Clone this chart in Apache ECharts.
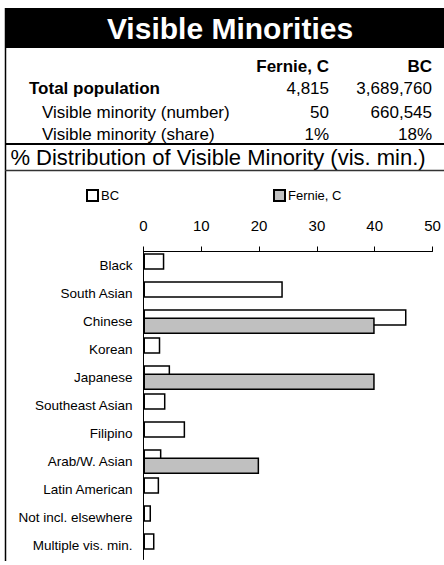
<!DOCTYPE html>
<html>
<head>
<meta charset="utf-8">
<title>Visible Minorities</title>
<script src="https://cdn.jsdelivr.net/npm/echarts@6/dist/echarts.min.js"></script>
<style>
  html, body { margin: 0; padding: 0; background: #fff; }
  #chart { width: 444px; height: 565px; }
</style>
</head>
<body>
<div id="chart"></div>
<script>
// data
const categories = ['Black', 'South Asian', 'Chinese', 'Korean', 'Japanese', 'Southeast Asian',
  'Filipino', 'Arab/W. Asian', 'Latin American', 'Not incl. elsewhere', 'Multiple vis. min.'];
const bcValues = [3.6, 24.1, 45.5, 2.9, 4.6, 3.8, 7.2, 3.1, 2.7, 1.3, 1.9];
const fernieValues = [0, 0, 40, 0, 40, 0, 0, 20, 0, 0, 0];
const xTicks = [0, 10, 20, 30, 40, 50];

const places = ['Fernie, C', 'BC'];
const rowLabels = ['Total population', 'Visible minority (number)', 'Visible minority (share)'];
const fernieRow = ['4,815', '50', '1%'];
const bcRow = ['3,689,760', '660,545', '18%'];

const FONT = '"Liberation Sans", Arial, sans-serif';
const chart = echarts.init(document.getElementById('chart'), null, { renderer: 'svg' });

function txt(text, x, y, size, opts) {
  opts = opts || {};
  return {
    type: 'text',
    x: x,
    y: y,
    z: 10,
    style: {
      text: text,
      fontFamily: FONT,
      fontSize: size,
      fontWeight: opts.bold ? 'bold' : 'normal',
      fill: opts.color || '#000',
      align: opts.align || 'left',
      verticalAlign: 'middle'
    }
  };
}

const graphics = [
  { type: 'rect', shape: { x: 5, y: 8, width: 445, height: 40 }, style: { fill: '#000' } },
  { type: 'line', shape: { x1: 5.5, y1: 8, x2: 5.5, y2: 561 }, style: { stroke: '#000', lineWidth: 1.5 } },
  { type: 'line', shape: { x1: 5, y1: 144, x2: 444, y2: 144 }, style: { stroke: '#000', lineWidth: 2 } },
  { type: 'line', shape: { x1: 5, y1: 170.5, x2: 444, y2: 170.5 }, style: { stroke: '#333', lineWidth: 1.5 } },
  txt('Visible Minorities', 230, 28, 30, { bold: true, color: '#fff', align: 'center' }),
  txt(places[0], 329, 66, 17, { bold: true, align: 'right' }),
  txt(places[1], 432, 66, 17, { bold: true, align: 'right' }),
  txt('% Distribution of Visible Minority (vis. min.)', 218, 157, 22, { align: 'center' })
];
const rowY = [88, 112, 134];
rowLabels.forEach(function (label, i) {
  graphics.push(txt(label, i === 0 ? 29 : 42, rowY[i], 17, { bold: i === 0 }));
  graphics.push(txt(fernieRow[i], 329, rowY[i], 17, { align: 'right' }));
  graphics.push(txt(bcRow[i], 432, rowY[i], 17, { align: 'right' }));
});

const legendBase = {
  top: 184,
  icon: 'rect',
  itemWidth: 11,
  itemHeight: 11,
  itemGap: 4,
  selectedMode: false,
  textStyle: { fontFamily: FONT, fontSize: 13, color: '#000', padding: [0, 0, 0, -2] }
};

const option = {
  animation: false,
  textStyle: { fontFamily: FONT },
  graphic: graphics,
  legend: [
    Object.assign({ left: 81, data: ['BC'] }, legendBase),
    Object.assign({ left: 268, data: ['Fernie, C'] }, legendBase)
  ],
  grid: { left: 143.5, right: 11.5, top: 251.5, bottom: 5.5, containLabel: false },
  xAxis: {
    type: 'value',
    position: 'top',
    min: xTicks[0],
    max: xTicks[xTicks.length - 1],
    interval: xTicks[1] - xTicks[0],
    axisLine: { show: true, lineStyle: { color: '#000', width: 1 } },
    axisTick: { show: true, length: 5, lineStyle: { color: '#000' } },
    axisLabel: { margin: 19, fontSize: 15, color: '#000', fontFamily: FONT },
    splitLine: { show: false }
  },
  yAxis: {
    type: 'category',
    inverse: true,
    data: categories,
    axisLine: { show: true, lineStyle: { color: '#000', width: 1 } },
    axisTick: { show: false },
    axisLabel: { margin: 11, fontSize: 13.5, color: '#000', fontFamily: FONT }
  },
  series: [
    {
      name: 'BC',
      type: 'bar',
      data: bcValues,
      barWidth: 16.5,
      barGap: '-50%',
      itemStyle: { color: '#fff', borderColor: '#000', borderWidth: 1.5 }
    },
    {
      name: 'Fernie, C',
      type: 'bar',
      data: fernieValues.map(v => (v ? v : '-')),
      barWidth: 16.5,
      itemStyle: { color: '#c0c0c0', borderColor: '#000', borderWidth: 1.5 }
    }
  ]
};
chart.setOption(option);
</script>
</body>
</html>
